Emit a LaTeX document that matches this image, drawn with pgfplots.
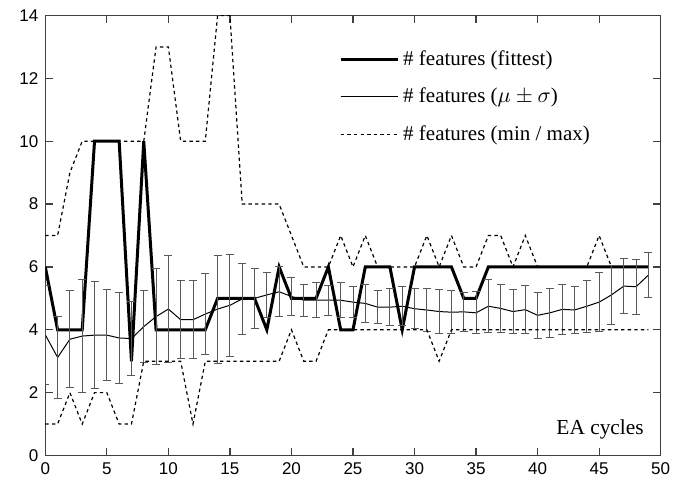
\documentclass[border=0pt]{standalone}
\usepackage{pgfplots}
\pgfplotsset{compat=1.18}
\usepackage{pgfplotstable}
\usepackage{fontspec}
\setmainfont{Liberation Serif}
\newfontfamily\arialfont{Liberation Sans}

\pgfplotstableread{
x fit mean std min max
0 6 3.84 1.57 1 7
1 4 3.12 1.32 1 7
2 4 3.70 1.54 2 9
3 4 3.80 1.79 1 10
4 10 3.83 1.71 2 10
5 10 3.83 1.45 2 10
6 10 3.74 1.46 1 10
7 3 3.72 1.18 1 10
8 10 4.10 1.15 3 10
9 4 4.42 1.52 3 13
10 4 4.66 1.70 3 13
11 4 4.32 1.24 3 10
12 4 4.32 1.24 1 10
13 4 4.50 1.29 3 10
14 5 4.66 1.72 3 14
15 5 4.78 1.63 3 14
16 5 4.98 1.12 3 8
17 5 5.00 0.95 3 8
18 4 5.11 0.71 3 8
19 6 5.21 0.80 3 8
20 5 5.06 0.61 4 7
21 5 4.94 0.50 3 6
22 5 4.94 0.56 3 6
23 6 4.94 0.47 4 6
24 4 4.94 0.56 4 7
25 4 4.88 0.50 4 6
26 6 4.84 0.60 4 7
27 6 4.72 0.53 4 6
28 6 4.72 0.59 4 6
29 4 4.75 0.62 4 6
30 6 4.67 0.63 4 6
31 6 4.63 0.68 4 7
32 6 4.58 0.70 3 6
33 6 4.56 0.68 4 7
34 5 4.57 0.62 4 6
35 5 4.54 0.67 4 6
36 6 4.75 0.84 4 7
37 6 4.68 0.77 4 7
38 6 4.58 0.70 4 6
39 6 4.64 0.77 4 7
40 6 4.46 0.72 4 6
41 6 4.54 0.77 4 6
42 6 4.65 0.80 4 6
43 6 4.63 0.76 4 6
44 6 4.75 0.83 4 6
45 6 4.88 0.93 4 7
46 6 5.11 0.95 4 6
47 6 5.39 0.87 4 6
48 6 5.37 0.88 4 6
49 6 5.74 0.71 4 6
}\data

\begin{document}
\begin{tikzpicture}
\begin{axis}[
  at={(0pt,0pt)}, anchor=south west,
  scale only axis, width=307.7pt, height=220pt,
  xmin=0, xmax=50, ymin=0, ymax=14,
  xtick={0,5,...,50}, ytick={0,2,...,14},
  tick align=inside, major tick length=4pt,
  axis line style={black!75, line width=0.6pt},
  every tick/.style={black!75, line width=0.6pt},
  ticklabel style={font=\arialfont\fontsize{8.5}{10}\selectfont},
  /pgf/number format/assume math mode=true,
  legend style={draw=none, fill=none, at={(0.477,0.94)}, anchor=north west,
    font=\fontsize{10.5}{12}\selectfont, row sep=6pt, cells={anchor=west},
    inner xsep=0pt},
  legend image code/.code={\draw[#1] (0pt,0pt) -- (27pt,0pt); \path (0pt,0pt) -- (28.5pt,0pt);},
]
\addplot[black, line width=1.5pt, line join=miter, miter limit=10] table[x=x, y=fit] {\data};
\addlegendentry{\# features (fittest)}
\addplot[black, line width=0.5pt,
  error bars/.cd, y dir=both, y explicit,
  error bar style={black!65, line width=0.45pt},
  error mark options={black!65, mark size=2pt, line width=0.45pt, rotate=90}]
  table[x=x, y=mean, y error=std] {\data};
\addlegendentry{\# features ($\mu \pm \sigma$)}
\addplot[black, line width=0.6pt, dash pattern=on 1.7pt off 1.6pt] table[x=x, y=max] {\data};
\addlegendentry{\# features (min / max)}
\addplot[black, line width=0.6pt, dash pattern=on 1.7pt off 1.6pt, forget plot] table[x=x, y=min] {\data};
\node[anchor=east, font=\fontsize{10.7}{12}\selectfont] at (rel axis cs:0.984,0.06) {EA cycles};
\end{axis}
\pgfresetboundingbox
\path (-22.65pt,-13.75pt) rectangle (319.85pt,227.75pt);
\end{tikzpicture}
\end{document}
